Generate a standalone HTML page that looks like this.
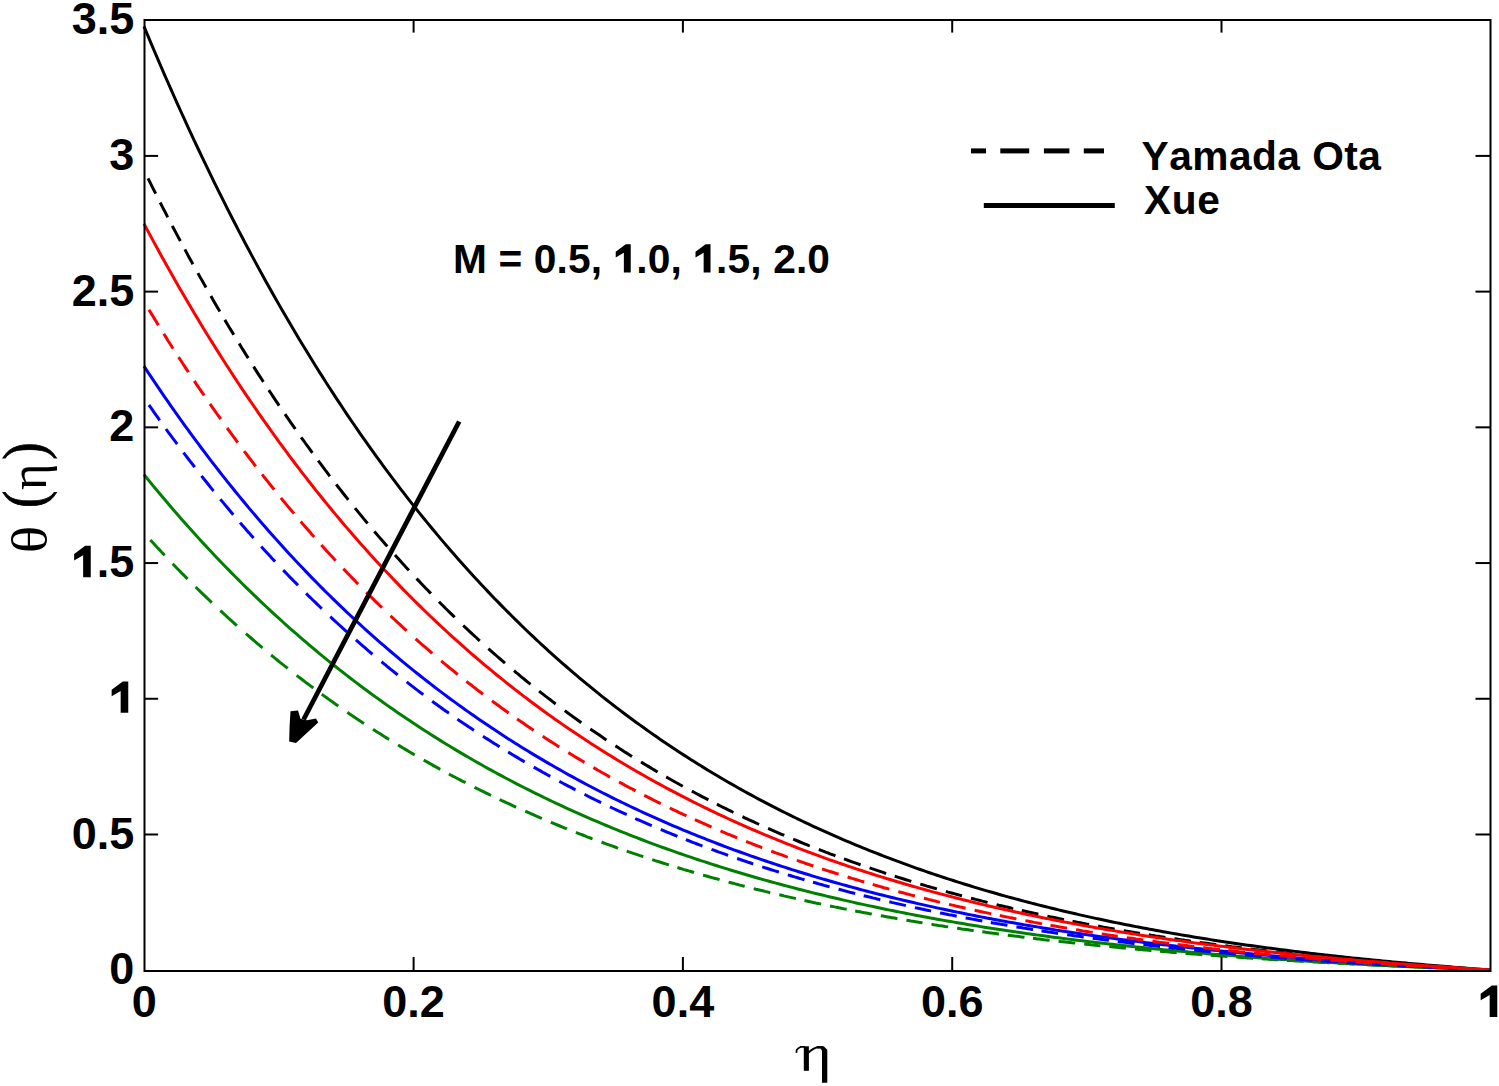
<!DOCTYPE html>
<html><head><meta charset="utf-8"><style>
html,body{margin:0;padding:0;background:#fff;}
body{width:1499px;height:1086px;overflow:hidden;}
svg{display:block;}
.tk text{font-family:"Liberation Sans",sans-serif;font-weight:bold;fill:#000;}
.tk polygon{fill:#000;}
.gr{font-family:"Liberation Serif",serif;fill:#000;}
</style></head><body>
<svg width="1499" height="1086" viewBox="0 0 1499 1086">
<rect x="0" y="0" width="1499" height="1086" fill="#fff"/>
<g>
<polyline fill="none" stroke="#000000" stroke-width="3.0" points="144.00,26.44 147.37,34.53 150.75,42.56 154.12,50.52 157.50,58.42 160.87,66.26 164.25,74.04 167.62,81.75 171.00,89.41 174.37,97.00 177.75,104.53 181.12,112.00 184.50,119.42 187.87,126.77 191.25,134.07 194.62,141.31 197.99,148.49 201.37,155.61 204.74,162.68 208.12,169.69 211.49,176.64 214.87,183.54 218.24,190.38 221.62,197.17 224.99,203.91 228.37,210.59 231.74,217.22 235.12,223.79 238.49,230.32 241.87,236.79 245.24,243.20 248.62,249.57 251.99,255.89 255.36,262.15 258.74,268.37 262.11,274.54 265.49,280.65 268.86,286.72 272.24,292.74 275.61,298.71 278.99,304.63 282.36,310.51 285.74,316.33 289.11,322.12 292.49,327.85 295.86,333.54 299.24,339.18 302.61,344.78 305.98,350.33 309.36,355.84 312.73,361.30 316.11,366.72 319.48,372.09 322.86,377.42 326.23,382.71 329.61,387.96 332.98,393.16 336.36,398.32 339.73,403.44 343.11,408.52 346.48,413.56 349.86,418.56 353.23,423.51 356.61,428.43 359.98,433.30 363.35,438.14 366.73,442.94 370.10,447.69 373.48,452.41 376.85,457.09 380.23,461.74 383.60,466.34 386.98,470.91 390.35,475.44 393.73,479.93 397.10,484.39 400.48,488.81 403.85,493.20 407.23,497.55 410.60,501.86 413.97,506.14 417.35,510.38 420.72,514.59 424.10,518.76 427.47,522.90 430.85,527.01 434.22,531.08 437.60,535.12 440.97,539.13 444.35,543.10 447.72,547.04 451.10,550.95 454.47,554.82 457.85,558.67 461.22,562.48 464.60,566.26 467.97,570.01 471.34,573.73 474.72,577.42 478.09,581.08 481.47,584.70 484.84,588.30 488.22,591.87 491.59,595.41 494.97,598.92 498.34,602.40 501.72,605.85 505.09,609.27 508.47,612.67 511.84,616.04 515.22,619.37 518.59,622.69 521.96,625.97 525.34,629.23 528.71,632.46 532.09,635.66 535.46,638.83 538.84,641.98 542.21,645.11 545.59,648.20 548.96,651.28 552.34,654.32 555.71,657.34 559.09,660.34 562.46,663.31 565.84,666.25 569.21,669.17 572.59,672.07 575.96,674.94 579.33,677.79 582.71,680.62 586.08,683.42 589.46,686.19 592.83,688.95 596.21,691.68 599.58,694.39 602.96,697.07 606.33,699.73 609.71,702.37 613.08,704.99 616.46,707.59 619.83,710.16 623.21,712.71 626.58,715.24 629.95,717.75 633.33,720.24 636.70,722.71 640.08,725.16 643.45,727.58 646.83,729.99 650.20,732.37 653.58,734.74 656.95,737.08 660.33,739.40 663.70,741.71 667.08,743.99 670.45,746.26 673.83,748.51 677.20,750.73 680.58,752.94 683.95,755.13 687.32,757.30 690.70,759.46 694.07,761.59 697.45,763.71 700.82,765.80 704.20,767.88 707.57,769.95 710.95,771.99 714.32,774.02 717.70,776.03 721.07,778.02 724.45,779.99 727.82,781.95 731.20,783.89 734.57,785.82 737.94,787.73 741.32,789.62 744.69,791.49 748.07,793.35 751.44,795.19 754.82,797.02 758.19,798.83 761.57,800.63 764.94,802.41 768.32,804.17 771.69,805.92 775.07,807.66 778.44,809.38 781.82,811.08 785.19,812.77 788.57,814.44 791.94,816.11 795.31,817.75 798.69,819.38 802.06,821.00 805.44,822.60 808.81,824.19 812.19,825.77 815.56,827.33 818.94,828.88 822.31,830.41 825.69,831.93 829.06,833.44 832.44,834.93 835.81,836.41 839.19,837.88 842.56,839.34 845.93,840.78 849.31,842.21 852.68,843.63 856.06,845.03 859.43,846.42 862.81,847.80 866.18,849.17 869.56,850.53 872.93,851.87 876.31,853.20 879.68,854.52 883.06,855.83 886.43,857.13 889.81,858.41 893.18,859.69 896.56,860.95 899.93,862.20 903.30,863.44 906.68,864.67 910.05,865.89 913.43,867.09 916.80,868.29 920.18,869.48 923.55,870.65 926.93,871.81 930.30,872.97 933.68,874.11 937.05,875.25 940.43,876.37 943.80,877.48 947.18,878.58 950.55,879.68 953.92,880.76 957.30,881.83 960.67,882.90 964.05,883.95 967.42,885.00 970.80,886.03 974.17,887.06 977.55,888.07 980.92,889.08 984.30,890.08 987.67,891.07 991.05,892.05 994.42,893.02 997.80,893.98 1001.17,894.94 1004.55,895.88 1007.92,896.82 1011.29,897.74 1014.67,898.66 1018.04,899.57 1021.42,900.48 1024.79,901.37 1028.17,902.26 1031.54,903.13 1034.92,904.00 1038.29,904.86 1041.67,905.72 1045.04,906.56 1048.42,907.40 1051.79,908.23 1055.17,909.05 1058.54,909.87 1061.91,910.68 1065.29,911.48 1068.66,912.27 1072.04,913.05 1075.41,913.83 1078.79,914.60 1082.16,915.37 1085.54,916.12 1088.91,916.87 1092.29,917.61 1095.66,918.35 1099.04,919.08 1102.41,919.80 1105.79,920.51 1109.16,921.22 1112.54,921.92 1115.91,922.62 1119.28,923.31 1122.66,923.99 1126.03,924.66 1129.41,925.33 1132.78,926.00 1136.16,926.65 1139.53,927.30 1142.91,927.95 1146.28,928.59 1149.66,929.22 1153.03,929.84 1156.41,930.46 1159.78,931.08 1163.16,931.69 1166.53,932.29 1169.90,932.89 1173.28,933.48 1176.65,934.06 1180.03,934.64 1183.40,935.22 1186.78,935.79 1190.15,936.35 1193.53,936.91 1196.90,937.46 1200.28,938.01 1203.65,938.55 1207.03,939.09 1210.40,939.62 1213.78,940.15 1217.15,940.67 1220.53,941.18 1223.90,941.70 1227.27,942.20 1230.65,942.70 1234.02,943.20 1237.40,943.69 1240.77,944.18 1244.15,944.66 1247.52,945.14 1250.90,945.61 1254.27,946.08 1257.65,946.55 1261.02,947.01 1264.40,947.46 1267.77,947.91 1271.15,948.36 1274.52,948.80 1277.89,949.24 1281.27,949.67 1284.64,950.10 1288.02,950.53 1291.39,950.95 1294.77,951.37 1298.14,951.78 1301.52,952.19 1304.89,952.59 1308.27,953.00 1311.64,953.39 1315.02,953.79 1318.39,954.18 1321.77,954.56 1325.14,954.94 1328.52,955.32 1331.89,955.70 1335.26,956.07 1338.64,956.44 1342.01,956.80 1345.39,957.16 1348.76,957.52 1352.14,957.87 1355.51,958.22 1358.89,958.57 1362.26,958.91 1365.64,959.25 1369.01,959.59 1372.39,959.93 1375.76,960.26 1379.14,960.58 1382.51,960.91 1385.88,961.23 1389.26,961.55 1392.63,961.87 1396.01,962.18 1399.38,962.49 1402.76,962.80 1406.13,963.10 1409.51,963.40 1412.88,963.70 1416.26,964.00 1419.63,964.30 1423.01,964.59 1426.38,964.88 1429.76,965.17 1433.13,965.45 1436.51,965.74 1439.88,966.02 1443.25,966.30 1446.63,966.58 1450.00,966.85 1453.38,967.13 1456.75,967.40 1460.13,967.67 1463.50,967.94 1466.88,968.22 1470.25,968.49 1473.63,968.76 1477.00,969.03 1480.38,969.31 1483.75,969.59 1487.13,969.88 1490.50,970.20"/>
<path fill="none" stroke="#000000" stroke-width="3.0" d="M148.0 178.4 L150.3 182.9 L152.5 187.4 L154.8 191.9 L155.7 193.6 M160.2 202.5 L162.4 206.9 L164.7 211.2 L166.9 215.6 L167.8 217.3 M172.3 225.9 L174.5 230.1 L176.8 234.4 L179.0 238.6 L180.4 241.1 M184.9 249.4 L187.1 253.6 L189.3 257.7 L191.6 261.8 L192.9 264.2 M197.9 273.1 L200.1 277.1 L202.4 281.1 L204.6 285.1 L206.0 287.5 M210.9 296.1 L213.1 300.0 L215.4 303.9 L217.6 307.7 L219.9 311.5 M224.8 319.9 L227.1 323.7 L229.3 327.4 L231.6 331.1 L233.8 334.8 M239.2 343.6 L241.4 347.3 L243.7 350.9 L245.9 354.5 L248.2 358.1 M253.6 366.6 L255.8 370.1 L258.0 373.6 L260.3 377.1 L262.5 380.5 L263.4 381.9 M268.8 390.1 L271.1 393.5 L273.3 396.9 L275.6 400.3 L277.8 403.6 L279.1 405.6 M285.0 414.1 L287.2 417.4 L289.5 420.7 L291.7 423.9 L294.0 427.1 L295.3 429.0 M301.1 437.3 L303.4 440.4 L305.6 443.5 L307.9 446.6 L310.1 449.7 L312.4 452.8 M318.2 460.7 L320.5 463.7 L322.7 466.7 L324.9 469.7 L327.2 472.6 L329.4 475.6 L329.9 476.2 M336.2 484.4 L338.4 487.2 L340.7 490.1 L342.9 493.0 L345.1 495.8 L347.4 498.6 L348.3 499.8 M355.0 508.1 L357.3 510.9 L359.5 513.6 L361.8 516.4 L364.0 519.1 L366.2 521.8 L367.6 523.4 M374.3 531.4 L376.6 534.0 L378.8 536.6 L381.1 539.2 L383.3 541.8 L385.6 544.4 L387.3 546.4 M395.0 555.1 L397.2 557.6 L399.5 560.1 L401.7 562.5 L404.0 565.0 L406.2 567.5 L408.5 569.9 L408.9 570.4 M416.5 578.6 L418.8 580.9 L421.0 583.3 L423.3 585.7 L425.5 588.0 L427.8 590.3 L430.0 592.6 L430.9 593.6 M439.0 601.8 L441.2 604.0 L443.5 606.3 L445.7 608.5 L448.0 610.7 L450.2 612.9 L452.5 615.1 L454.7 617.3 M463.2 625.5 L465.5 627.6 L467.7 629.7 L470.0 631.8 L472.2 633.9 L474.5 636.0 L476.7 638.0 L478.9 640.1 L479.8 640.9 M488.4 648.6 L490.6 650.6 L492.9 652.6 L495.1 654.5 L497.3 656.5 L499.6 658.5 L501.8 660.4 L504.1 662.3 L505.0 663.1 M514.0 670.7 L516.2 672.6 L518.5 674.4 L520.7 676.3 L522.9 678.1 L525.2 680.0 L527.4 681.8 L529.7 683.6 L530.6 684.3 M539.1 691.1 L541.3 692.9 L543.6 694.6 L545.8 696.4 L548.1 698.1 L550.3 699.8 L552.6 701.6 L554.8 703.3 L555.7 703.9 M564.7 710.6 L566.9 712.3 L569.2 713.9 L571.4 715.6 L573.7 717.2 L575.9 718.8 L578.2 720.4 L580.4 722.0 L581.3 722.7 M590.3 729.0 L592.5 730.5 L594.8 732.1 L597.0 733.6 L599.3 735.1 L601.5 736.6 L603.8 738.2 L606.0 739.7 L606.5 740.0 M615.4 745.9 L617.7 747.3 L619.9 748.8 L622.2 750.2 L624.4 751.7 L626.7 753.1 L628.9 754.5 L631.1 755.9 L632.0 756.5 M641.0 762.0 L643.3 763.4 L645.5 764.7 L647.8 766.1 L650.0 767.4 L652.2 768.8 L654.5 770.1 L656.7 771.4 L657.6 772.0 M666.2 776.9 L668.4 778.2 L670.7 779.5 L672.9 780.7 L675.1 782.0 L677.4 783.2 L679.6 784.5 L681.9 785.7 L682.8 786.2 M691.8 791.1 L694.0 792.3 L696.2 793.5 L698.5 794.7 L700.7 795.9 L703.0 797.1 L705.2 798.2 L707.5 799.4 L708.4 799.9 M716.9 804.2 L719.1 805.3 L721.4 806.5 L723.6 807.6 L725.9 808.7 L728.1 809.8 L730.4 810.9 L732.6 812.0 L733.5 812.4 M742.5 816.7 L744.7 817.8 L747.0 818.8 L749.2 819.9 L751.5 820.9 L753.7 821.9 L756.0 823.0 L758.2 824.0 L759.1 824.4 M768.1 828.4 L770.3 829.4 L772.6 830.4 L774.8 831.4 L777.1 832.3 L779.3 833.3 L781.6 834.3 L783.8 835.2 L784.2 835.4 M793.2 839.2 L795.5 840.1 L797.7 841.0 L800.0 842.0 L802.2 842.9 L804.5 843.8 L806.7 844.7 L808.9 845.6 L809.8 845.9 M818.8 849.5 L821.1 850.3 L823.3 851.2 L825.6 852.1 L827.8 852.9 L830.0 853.8 L832.3 854.6 L834.5 855.4 L835.4 855.8 M844.0 858.9 L846.2 859.7 L848.5 860.5 L850.7 861.3 L852.9 862.1 L855.2 862.9 L857.4 863.7 L859.7 864.5 L860.6 864.8 M869.6 867.9 L871.8 868.7 L874.0 869.4 L876.3 870.2 L878.5 870.9 L880.8 871.7 L883.0 872.4 L885.3 873.2 L886.2 873.4 M894.7 876.2 L896.9 876.9 L899.2 877.6 L901.4 878.3 L903.7 879.0 L905.9 879.7 L908.2 880.4 L910.4 881.1 L911.3 881.4 M920.3 884.1 L922.5 884.7 L924.8 885.4 L927.0 886.1 L929.3 886.7 L931.5 887.4 L933.8 888.0 L936.0 888.6 L936.9 888.9 M945.9 891.4 L948.1 892.1 L950.4 892.7 L952.6 893.3 L954.9 893.9 L957.1 894.5 L959.4 895.1 L961.6 895.7 L962.0 895.8 M971.0 898.2 L973.3 898.8 L975.5 899.4 L977.8 899.9 L980.0 900.5 L982.3 901.1 L984.5 901.6 L986.7 902.2 L987.6 902.4 M996.6 904.6 L998.9 905.2 L1001.1 905.7 L1003.4 906.2 L1005.6 906.8 L1007.8 907.3 L1010.1 907.8 L1012.3 908.4 L1013.2 908.6 M1021.8 910.5 L1024.0 911.0 L1026.3 911.5 L1028.5 912.0 L1030.7 912.5 L1033.0 913.0 L1035.2 913.5 L1037.5 914.0 L1038.4 914.2 M1047.4 916.1 L1049.6 916.6 L1051.8 917.1 L1054.1 917.5 L1056.3 918.0 L1058.6 918.5 L1060.8 918.9 L1063.1 919.4 L1064.0 919.6 M1072.5 921.3 L1074.7 921.7 L1077.0 922.1 L1079.2 922.6 L1081.5 923.0 L1083.7 923.4 L1086.0 923.9 L1088.2 924.3 L1089.1 924.5 M1098.1 926.1 L1100.3 926.5 L1102.6 927.0 L1104.8 927.4 L1107.1 927.8 L1109.3 928.2 L1111.6 928.6 L1113.8 929.0 L1114.7 929.1 M1123.7 930.7 L1125.9 931.1 L1128.2 931.4 L1130.4 931.8 L1132.7 932.2 L1134.9 932.6 L1137.2 932.9 L1139.4 933.3 L1139.8 933.4 M1148.8 934.8 L1151.1 935.2 L1153.3 935.5 L1155.6 935.9 L1157.8 936.2 L1160.0 936.6 L1162.3 936.9 L1164.5 937.3 L1165.4 937.4 M1174.4 938.8 L1176.7 939.1 L1178.9 939.4 L1181.2 939.8 L1183.4 940.1 L1185.6 940.4 L1187.9 940.7 L1190.1 941.1 L1191.0 941.2 M1199.6 942.4 L1201.8 942.7 L1204.0 943.0 L1206.3 943.3 L1208.5 943.6 L1210.8 943.9 L1213.0 944.2 L1215.3 944.5 L1216.2 944.6 M1225.2 945.8 L1227.4 946.1 L1229.6 946.4 L1231.9 946.7 L1234.1 946.9 L1236.4 947.2 L1238.6 947.5 L1240.9 947.8 L1241.8 947.9 M1250.3 948.9 L1252.5 949.2 L1254.8 949.5 L1257.0 949.7 L1259.3 950.0 L1261.5 950.2 L1263.8 950.5 L1266.0 950.8 L1266.9 950.9 M1275.9 951.9 L1278.1 952.1 L1280.4 952.4 L1282.6 952.6 L1284.9 952.9 L1287.1 953.1 L1289.4 953.3 L1291.6 953.6 L1292.5 953.7 M1301.5 954.6 L1303.7 954.9 L1306.0 955.1 L1308.2 955.3 L1310.5 955.5 L1312.7 955.8 L1314.9 956.0 L1317.2 956.2 L1317.6 956.3 M1326.6 957.1 L1328.9 957.4 L1331.1 957.6 L1333.4 957.8 L1335.6 958.0 L1337.8 958.2 L1340.1 958.4 L1342.3 958.6 L1343.2 958.7 M1352.2 959.5 L1354.5 959.7 L1356.7 959.9 L1358.9 960.1 L1361.2 960.3 L1363.4 960.5 L1365.7 960.7 L1367.9 960.9 L1368.8 961.0 M1377.4 961.7 L1379.6 961.9 L1381.8 962.1 L1384.1 962.3 L1386.3 962.4 L1388.6 962.6 L1390.8 962.8 L1393.1 963.0 L1394.0 963.1 M1402.9 963.8 L1405.2 963.9 L1407.4 964.1 L1409.7 964.3 L1411.9 964.5 L1414.2 964.6 L1416.4 964.8 L1418.7 965.0 L1419.6 965.0 M1428.1 965.7 L1430.3 965.8 L1432.6 966.0 L1434.8 966.2 L1437.1 966.3 L1439.3 966.5 L1441.6 966.7 L1443.8 966.8 L1444.7 966.9 M1453.7 967.5 L1455.9 967.7 L1458.2 967.8 L1460.4 968.0 L1462.7 968.2 L1464.9 968.3 L1467.2 968.5 L1469.4 968.6 L1470.3 968.7 M1479.3 969.3 L1481.5 969.5 L1483.8 969.7 L1486.0 969.8 L1488.3 970.0 L1490.5 970.2"/>
<polyline fill="none" stroke="#008000" stroke-width="3.0" points="144.00,474.54 147.37,478.71 150.75,482.85 154.12,486.95 157.50,491.03 160.87,495.07 164.25,499.08 167.62,503.06 171.00,507.01 174.37,510.93 177.75,514.82 181.12,518.68 184.50,522.51 187.87,526.31 191.25,530.08 194.62,533.82 197.99,537.53 201.37,541.21 204.74,544.87 208.12,548.49 211.49,552.09 214.87,555.66 218.24,559.20 221.62,562.72 224.99,566.21 228.37,569.67 231.74,573.10 235.12,576.51 238.49,579.89 241.87,583.24 245.24,586.57 248.62,589.87 251.99,593.15 255.36,596.40 258.74,599.62 262.11,602.82 265.49,606.00 268.86,609.15 272.24,612.28 275.61,615.38 278.99,618.45 282.36,621.51 285.74,624.54 289.11,627.54 292.49,630.52 295.86,633.48 299.24,636.42 302.61,639.33 305.98,642.22 309.36,645.08 312.73,647.93 316.11,650.75 319.48,653.55 322.86,656.33 326.23,659.08 329.61,661.82 332.98,664.53 336.36,667.22 339.73,669.89 343.11,672.54 346.48,675.17 349.86,677.77 353.23,680.36 356.61,682.92 359.98,685.47 363.35,688.00 366.73,690.50 370.10,692.99 373.48,695.45 376.85,697.90 380.23,700.33 383.60,702.73 386.98,705.12 390.35,707.49 393.73,709.84 397.10,712.18 400.48,714.49 403.85,716.79 407.23,719.06 410.60,721.32 413.97,723.56 417.35,725.78 420.72,727.99 424.10,730.18 427.47,732.35 430.85,734.50 434.22,736.64 437.60,738.75 440.97,740.86 444.35,742.94 447.72,745.01 451.10,747.06 454.47,749.10 457.85,751.11 461.22,753.12 464.60,755.10 467.97,757.07 471.34,759.03 474.72,760.97 478.09,762.89 481.47,764.80 484.84,766.69 488.22,768.57 491.59,770.43 494.97,772.28 498.34,774.11 501.72,775.93 505.09,777.73 508.47,779.52 511.84,781.29 515.22,783.05 518.59,784.80 521.96,786.53 525.34,788.24 528.71,789.95 532.09,791.64 535.46,793.31 538.84,794.97 542.21,796.62 545.59,798.26 548.96,799.88 552.34,801.49 555.71,803.08 559.09,804.66 562.46,806.23 565.84,807.79 569.21,809.33 572.59,810.86 575.96,812.38 579.33,813.89 582.71,815.38 586.08,816.86 589.46,818.33 592.83,819.79 596.21,821.24 599.58,822.67 602.96,824.09 606.33,825.50 609.71,826.90 613.08,828.29 616.46,829.66 619.83,831.03 623.21,832.38 626.58,833.72 629.95,835.05 633.33,836.37 636.70,837.68 640.08,838.98 643.45,840.27 646.83,841.54 650.20,842.81 653.58,844.06 656.95,845.31 660.33,846.54 663.70,847.77 667.08,848.98 670.45,850.19 673.83,851.38 677.20,852.57 680.58,853.74 683.95,854.90 687.32,856.06 690.70,857.20 694.07,858.34 697.45,859.47 700.82,860.58 704.20,861.69 707.57,862.79 710.95,863.88 714.32,864.96 717.70,866.03 721.07,867.09 724.45,868.14 727.82,869.19 731.20,870.22 734.57,871.25 737.94,872.26 741.32,873.27 744.69,874.27 748.07,875.27 751.44,876.25 754.82,877.23 758.19,878.19 761.57,879.15 764.94,880.10 768.32,881.04 771.69,881.98 775.07,882.91 778.44,883.82 781.82,884.74 785.19,885.64 788.57,886.53 791.94,887.42 795.31,888.30 798.69,889.18 802.06,890.04 805.44,890.90 808.81,891.75 812.19,892.59 815.56,893.43 818.94,894.26 822.31,895.08 825.69,895.89 829.06,896.70 832.44,897.50 835.81,898.30 839.19,899.08 842.56,899.86 845.93,900.64 849.31,901.40 852.68,902.16 856.06,902.92 859.43,903.66 862.81,904.40 866.18,905.14 869.56,905.87 872.93,906.59 876.31,907.30 879.68,908.01 883.06,908.71 886.43,909.41 889.81,910.10 893.18,910.78 896.56,911.46 899.93,912.14 903.30,912.80 906.68,913.46 910.05,914.12 913.43,914.77 916.80,915.41 920.18,916.05 923.55,916.68 926.93,917.31 930.30,917.93 933.68,918.54 937.05,919.15 940.43,919.76 943.80,920.36 947.18,920.95 950.55,921.54 953.92,922.12 957.30,922.70 960.67,923.27 964.05,923.84 967.42,924.41 970.80,924.96 974.17,925.52 977.55,926.06 980.92,926.61 984.30,927.15 987.67,927.68 991.05,928.21 994.42,928.73 997.80,929.25 1001.17,929.77 1004.55,930.28 1007.92,930.78 1011.29,931.28 1014.67,931.78 1018.04,932.27 1021.42,932.76 1024.79,933.24 1028.17,933.72 1031.54,934.19 1034.92,934.66 1038.29,935.13 1041.67,935.59 1045.04,936.05 1048.42,936.50 1051.79,936.95 1055.17,937.39 1058.54,937.83 1061.91,938.27 1065.29,938.70 1068.66,939.13 1072.04,939.55 1075.41,939.97 1078.79,940.39 1082.16,940.80 1085.54,941.21 1088.91,941.62 1092.29,942.02 1095.66,942.42 1099.04,942.81 1102.41,943.20 1105.79,943.59 1109.16,943.97 1112.54,944.35 1115.91,944.73 1119.28,945.10 1122.66,945.47 1126.03,945.84 1129.41,946.20 1132.78,946.56 1136.16,946.91 1139.53,947.26 1142.91,947.61 1146.28,947.96 1149.66,948.30 1153.03,948.64 1156.41,948.98 1159.78,949.31 1163.16,949.64 1166.53,949.96 1169.90,950.29 1173.28,950.61 1176.65,950.93 1180.03,951.24 1183.40,951.55 1186.78,951.86 1190.15,952.16 1193.53,952.47 1196.90,952.77 1200.28,953.06 1203.65,953.36 1207.03,953.65 1210.40,953.93 1213.78,954.22 1217.15,954.50 1220.53,954.78 1223.90,955.06 1227.27,955.33 1230.65,955.60 1234.02,955.87 1237.40,956.14 1240.77,956.40 1244.15,956.67 1247.52,956.92 1250.90,957.18 1254.27,957.43 1257.65,957.69 1261.02,957.93 1264.40,958.18 1267.77,958.42 1271.15,958.67 1274.52,958.90 1277.89,959.14 1281.27,959.38 1284.64,959.61 1288.02,959.84 1291.39,960.06 1294.77,960.29 1298.14,960.51 1301.52,960.73 1304.89,960.95 1308.27,961.17 1311.64,961.38 1315.02,961.60 1318.39,961.81 1321.77,962.01 1325.14,962.22 1328.52,962.42 1331.89,962.62 1335.26,962.82 1338.64,963.02 1342.01,963.22 1345.39,963.41 1348.76,963.60 1352.14,963.79 1355.51,963.98 1358.89,964.17 1362.26,964.35 1365.64,964.53 1369.01,964.71 1372.39,964.89 1375.76,965.07 1379.14,965.25 1382.51,965.42 1385.88,965.59 1389.26,965.76 1392.63,965.93 1396.01,966.09 1399.38,966.26 1402.76,966.42 1406.13,966.58 1409.51,966.74 1412.88,966.90 1416.26,967.06 1419.63,967.22 1423.01,967.37 1426.38,967.52 1429.76,967.67 1433.13,967.82 1436.51,967.97 1439.88,968.12 1443.25,968.26 1446.63,968.41 1450.00,968.55 1453.38,968.69 1456.75,968.83 1460.13,968.97 1463.50,969.11 1466.88,969.25 1470.25,969.38 1473.63,969.52 1477.00,969.65 1480.38,969.79 1483.75,969.92 1487.13,970.06 1490.50,970.20"/>
<path fill="none" stroke="#008000" stroke-width="3.0" d="M150.3 539.9 L152.5 542.3 L154.8 544.8 L157.0 547.2 L159.3 549.6 L161.5 552.0 L163.8 554.4 L164.7 555.3 M172.7 563.8 L175.0 566.2 L177.2 568.5 L179.5 570.8 L181.7 573.1 L184.0 575.3 L186.2 577.6 L187.6 579.0 M195.6 587.0 L197.9 589.2 L200.1 591.4 L202.4 593.6 L204.6 595.7 L206.9 597.9 L209.1 600.0 L211.3 602.2 L211.8 602.6 M220.3 610.6 L222.6 612.7 L224.8 614.7 L227.1 616.8 L229.3 618.8 L231.6 620.9 L233.8 622.9 L236.0 624.9 L236.9 625.7 M245.9 633.6 L248.2 635.6 L250.4 637.5 L252.7 639.5 L254.9 641.4 L257.1 643.3 L259.4 645.2 L261.6 647.1 L262.5 647.9 M271.1 655.0 L273.3 656.8 L275.6 658.6 L277.8 660.5 L280.0 662.3 L282.3 664.1 L284.5 665.9 L286.8 667.6 L287.7 668.4 M296.7 675.4 L298.9 677.1 L301.1 678.8 L303.4 680.5 L305.6 682.3 L307.9 683.9 L310.1 685.6 L312.4 687.3 L313.3 688.0 M321.8 694.3 L324.0 695.9 L326.3 697.5 L328.5 699.1 L330.8 700.7 L333.0 702.3 L335.3 703.9 L337.5 705.5 L338.4 706.1 M347.4 712.3 L349.6 713.9 L351.9 715.4 L354.1 716.9 L356.4 718.4 L358.6 719.9 L360.9 721.4 L363.1 722.9 L364.0 723.5 M373.0 729.3 L375.2 730.8 L377.5 732.2 L379.7 733.6 L382.0 735.1 L384.2 736.5 L386.5 737.9 L388.7 739.3 L389.1 739.5 M398.1 745.0 L400.4 746.4 L402.6 747.7 L404.9 749.1 L407.1 750.4 L409.3 751.8 L411.6 753.1 L413.8 754.4 L414.7 754.9 M423.7 760.1 L426.0 761.3 L428.2 762.6 L430.5 763.9 L432.7 765.1 L434.9 766.4 L437.2 767.6 L439.4 768.9 L440.3 769.3 M448.9 774.0 L451.1 775.2 L453.3 776.4 L455.6 777.5 L457.8 778.7 L460.1 779.9 L462.3 781.1 L464.6 782.2 L465.5 782.7 M474.5 787.2 L476.7 788.4 L478.9 789.5 L481.2 790.6 L483.4 791.7 L485.7 792.8 L487.9 793.9 L490.2 795.0 L491.1 795.4 M499.6 799.5 L501.8 800.6 L504.1 801.6 L506.3 802.7 L508.6 803.7 L510.8 804.7 L513.1 805.8 L515.3 806.8 L516.2 807.2 M525.2 811.2 L527.4 812.2 L529.7 813.2 L531.9 814.2 L534.2 815.2 L536.4 816.2 L538.7 817.1 L540.9 818.1 L541.8 818.5 M550.8 822.3 L553.0 823.2 L555.3 824.1 L557.5 825.0 L559.8 826.0 L562.0 826.9 L564.2 827.8 L566.5 828.7 L566.9 828.9 M575.9 832.4 L578.2 833.3 L580.4 834.2 L582.7 835.0 L584.9 835.9 L587.1 836.8 L589.4 837.6 L591.6 838.5 L592.5 838.8 M601.5 842.1 L603.8 843.0 L606.0 843.8 L608.2 844.6 L610.5 845.4 L612.7 846.2 L615.0 847.0 L617.2 847.8 L618.1 848.1 M626.7 851.1 L628.9 851.9 L631.1 852.6 L633.4 853.4 L635.6 854.1 L637.9 854.9 L640.1 855.7 L642.4 856.4 L643.3 856.7 M652.2 859.6 L654.5 860.4 L656.7 861.1 L659.0 861.8 L661.2 862.5 L663.5 863.2 L665.7 863.9 L668.0 864.6 L668.9 864.9 M677.4 867.5 L679.6 868.2 L681.9 868.9 L684.1 869.6 L686.4 870.2 L688.6 870.9 L690.9 871.5 L693.1 872.2 L694.0 872.5 M703.0 875.1 L705.2 875.7 L707.5 876.3 L709.7 877.0 L712.0 877.6 L714.2 878.2 L716.5 878.8 L718.7 879.4 L719.6 879.7 M728.6 882.1 L730.8 882.7 L733.1 883.3 L735.3 883.9 L737.6 884.5 L739.8 885.1 L742.0 885.6 L744.3 886.2 L744.7 886.3 M753.7 888.6 L756.0 889.2 L758.2 889.7 L760.5 890.3 L762.7 890.8 L764.9 891.4 L767.2 891.9 L769.4 892.5 L770.3 892.7 M779.3 894.8 L781.6 895.3 L783.8 895.9 L786.0 896.4 L788.3 896.9 L790.5 897.4 L792.8 897.9 L795.0 898.4 L795.9 898.6 M804.5 900.5 L806.7 901.0 L808.9 901.5 L811.2 902.0 L813.4 902.5 L815.7 903.0 L817.9 903.4 L820.2 903.9 L821.1 904.1 M830.0 906.0 L832.3 906.4 L834.5 906.9 L836.8 907.3 L839.0 907.8 L841.3 908.2 L843.5 908.7 L845.8 909.1 L846.7 909.3 M855.2 911.0 L857.4 911.4 L859.7 911.8 L861.9 912.3 L864.2 912.7 L866.4 913.1 L868.7 913.5 L870.9 913.9 L871.8 914.1 M880.8 915.7 L883.0 916.1 L885.3 916.5 L887.5 916.9 L889.8 917.3 L892.0 917.7 L894.3 918.1 L896.5 918.5 L897.4 918.7 M906.4 920.2 L908.6 920.6 L910.9 921.0 L913.1 921.3 L915.4 921.7 L917.6 922.1 L919.8 922.4 L922.1 922.8 L922.5 922.9 M931.5 924.3 L933.8 924.7 L936.0 925.0 L938.3 925.4 L940.5 925.7 L942.7 926.0 L945.0 926.4 L947.2 926.7 L948.1 926.9 M957.1 928.2 L959.4 928.5 L961.6 928.9 L963.8 929.2 L966.1 929.5 L968.3 929.8 L970.6 930.2 L972.8 930.5 L973.7 930.6 M982.3 931.8 L984.5 932.1 L986.7 932.4 L989.0 932.7 L991.2 933.0 L993.5 933.3 L995.7 933.6 L998.0 933.9 L998.9 934.0 M1007.8 935.2 L1010.1 935.5 L1012.3 935.8 L1014.6 936.1 L1016.8 936.3 L1019.1 936.6 L1021.3 936.9 L1023.6 937.2 L1024.5 937.3 M1033.0 938.3 L1035.2 938.6 L1037.5 938.9 L1039.7 939.1 L1042.0 939.4 L1044.2 939.7 L1046.5 939.9 L1048.7 940.2 L1049.6 940.3 M1058.6 941.3 L1060.8 941.6 L1063.1 941.8 L1065.3 942.1 L1067.6 942.3 L1069.8 942.5 L1072.0 942.8 L1074.3 943.0 L1075.2 943.1 M1084.2 944.1 L1086.4 944.3 L1088.7 944.5 L1090.9 944.8 L1093.2 945.0 L1095.4 945.2 L1097.6 945.5 L1099.9 945.7 L1100.3 945.7 M1109.3 946.6 L1111.6 946.8 L1113.8 947.1 L1116.0 947.3 L1118.3 947.5 L1120.5 947.7 L1122.8 947.9 L1125.0 948.1 L1125.9 948.2 M1134.9 949.0 L1137.2 949.2 L1139.4 949.4 L1141.6 949.6 L1143.9 949.9 L1146.1 950.0 L1148.4 950.2 L1150.6 950.4 L1151.5 950.5 M1160.0 951.3 L1162.3 951.4 L1164.5 951.6 L1166.8 951.8 L1169.0 952.0 L1171.3 952.2 L1173.5 952.4 L1175.8 952.6 L1176.7 952.6 M1185.6 953.4 L1187.9 953.5 L1190.1 953.7 L1192.4 953.9 L1194.6 954.1 L1196.9 954.2 L1199.1 954.4 L1201.4 954.6 L1202.3 954.6 M1210.8 955.3 L1213.0 955.5 L1215.3 955.6 L1217.5 955.8 L1219.8 955.9 L1222.0 956.1 L1224.3 956.3 L1226.5 956.4 L1227.4 956.5 M1236.4 957.1 L1238.6 957.3 L1240.9 957.4 L1243.1 957.6 L1245.4 957.7 L1247.6 957.9 L1249.8 958.0 L1252.1 958.2 L1253.0 958.2 M1262.0 958.8 L1264.2 959.0 L1266.5 959.1 L1268.7 959.2 L1270.9 959.4 L1273.2 959.5 L1275.4 959.7 L1277.7 959.8 L1278.1 959.8 M1287.1 960.4 L1289.4 960.5 L1291.6 960.6 L1293.8 960.8 L1296.1 960.9 L1298.3 961.0 L1300.6 961.2 L1302.8 961.3 L1303.7 961.4 M1312.7 961.9 L1314.9 962.0 L1317.2 962.1 L1319.4 962.2 L1321.7 962.4 L1323.9 962.5 L1326.2 962.6 L1328.4 962.7 L1329.3 962.8 M1337.8 963.2 L1340.1 963.3 L1342.3 963.5 L1344.6 963.6 L1346.8 963.7 L1349.1 963.8 L1351.3 963.9 L1353.6 964.0 L1354.5 964.1 M1363.4 964.5 L1365.7 964.6 L1367.9 964.7 L1370.2 964.8 L1372.4 965.0 L1374.7 965.1 L1376.9 965.2 L1379.2 965.3 L1380.1 965.3 M1388.6 965.7 L1390.8 965.8 L1393.1 965.9 L1395.3 966.0 L1397.6 966.1 L1399.8 966.2 L1402.1 966.3 L1404.3 966.4 L1405.2 966.5 M1414.2 966.9 L1416.4 967.0 L1418.7 967.1 L1420.9 967.2 L1423.2 967.3 L1425.4 967.3 L1427.6 967.4 L1429.9 967.5 L1430.8 967.6 M1439.8 968.0 L1442.0 968.1 L1444.3 968.1 L1446.5 968.2 L1448.7 968.3 L1451.0 968.4 L1453.2 968.5 L1455.5 968.6 L1455.9 968.6 M1464.9 969.0 L1467.2 969.1 L1469.4 969.2 L1471.6 969.3 L1473.9 969.4 L1476.1 969.5 L1478.4 969.6 L1480.6 969.7 L1481.5 969.7"/>
<polyline fill="none" stroke="#0000ff" stroke-width="3.0" points="144.00,366.19 147.37,371.31 150.75,376.39 154.12,381.43 157.50,386.43 160.87,391.39 164.25,396.32 167.62,401.20 171.00,406.05 174.37,410.86 177.75,415.63 181.12,420.36 184.50,425.06 187.87,429.72 191.25,434.34 194.62,438.93 197.99,443.48 201.37,447.99 204.74,452.47 208.12,456.92 211.49,461.33 214.87,465.70 218.24,470.04 221.62,474.35 224.99,478.62 228.37,482.86 231.74,487.06 235.12,491.24 238.49,495.37 241.87,499.48 245.24,503.55 248.62,507.60 251.99,511.61 255.36,515.58 258.74,519.53 262.11,523.45 265.49,527.33 268.86,531.18 272.24,535.01 275.61,538.80 278.99,542.56 282.36,546.29 285.74,550.00 289.11,553.67 292.49,557.32 295.86,560.93 299.24,564.52 302.61,568.08 305.98,571.61 309.36,575.11 312.73,578.58 316.11,582.03 319.48,585.45 322.86,588.84 326.23,592.20 329.61,595.54 332.98,598.85 336.36,602.14 339.73,605.40 343.11,608.63 346.48,611.83 349.86,615.02 353.23,618.17 356.61,621.30 359.98,624.41 363.35,627.49 366.73,630.54 370.10,633.57 373.48,636.58 376.85,639.56 380.23,642.52 383.60,645.46 386.98,648.37 390.35,651.26 393.73,654.12 397.10,656.96 400.48,659.78 403.85,662.58 407.23,665.35 410.60,668.10 413.97,670.83 417.35,673.54 420.72,676.22 424.10,678.89 427.47,681.53 430.85,684.15 434.22,686.75 437.60,689.33 440.97,691.88 444.35,694.42 447.72,696.94 451.10,699.43 454.47,701.91 457.85,704.36 461.22,706.80 464.60,709.21 467.97,711.61 471.34,713.99 474.72,716.34 478.09,718.68 481.47,721.00 484.84,723.30 488.22,725.58 491.59,727.85 494.97,730.09 498.34,732.32 501.72,734.52 505.09,736.71 508.47,738.89 511.84,741.04 515.22,743.18 518.59,745.30 521.96,747.40 525.34,749.48 528.71,751.55 532.09,753.60 535.46,755.63 538.84,757.65 542.21,759.65 545.59,761.64 548.96,763.60 552.34,765.55 555.71,767.49 559.09,769.41 562.46,771.31 565.84,773.20 569.21,775.07 572.59,776.93 575.96,778.77 579.33,780.60 582.71,782.41 586.08,784.21 589.46,785.99 592.83,787.75 596.21,789.51 599.58,791.24 602.96,792.97 606.33,794.68 609.71,796.37 613.08,798.05 616.46,799.72 619.83,801.37 623.21,803.01 626.58,804.63 629.95,806.25 633.33,807.84 636.70,809.43 640.08,811.00 643.45,812.56 646.83,814.11 650.20,815.64 653.58,817.16 656.95,818.66 660.33,820.16 663.70,821.64 667.08,823.11 670.45,824.57 673.83,826.01 677.20,827.45 680.58,828.87 683.95,830.28 687.32,831.67 690.70,833.06 694.07,834.43 697.45,835.79 700.82,837.14 704.20,838.48 707.57,839.81 710.95,841.13 714.32,842.43 717.70,843.73 721.07,845.01 724.45,846.28 727.82,847.55 731.20,848.80 734.57,850.04 737.94,851.27 741.32,852.49 744.69,853.70 748.07,854.89 751.44,856.08 754.82,857.26 758.19,858.43 761.57,859.59 764.94,860.74 768.32,861.88 771.69,863.01 775.07,864.12 778.44,865.23 781.82,866.34 785.19,867.43 788.57,868.51 791.94,869.58 795.31,870.64 798.69,871.70 802.06,872.74 805.44,873.78 808.81,874.80 812.19,875.82 815.56,876.83 818.94,877.83 822.31,878.82 825.69,879.81 829.06,880.78 832.44,881.75 835.81,882.71 839.19,883.66 842.56,884.60 845.93,885.53 849.31,886.46 852.68,887.37 856.06,888.28 859.43,889.19 862.81,890.08 866.18,890.96 869.56,891.84 872.93,892.71 876.31,893.58 879.68,894.43 883.06,895.28 886.43,896.12 889.81,896.95 893.18,897.78 896.56,898.60 899.93,899.41 903.30,900.21 906.68,901.01 910.05,901.80 913.43,902.58 916.80,903.36 920.18,904.13 923.55,904.89 926.93,905.64 930.30,906.39 933.68,907.14 937.05,907.87 940.43,908.60 943.80,909.32 947.18,910.04 950.55,910.75 953.92,911.46 957.30,912.15 960.67,912.84 964.05,913.53 967.42,914.21 970.80,914.88 974.17,915.55 977.55,916.21 980.92,916.86 984.30,917.51 987.67,918.16 991.05,918.80 994.42,919.43 997.80,920.05 1001.17,920.67 1004.55,921.29 1007.92,921.90 1011.29,922.50 1014.67,923.10 1018.04,923.69 1021.42,924.28 1024.79,924.87 1028.17,925.44 1031.54,926.01 1034.92,926.58 1038.29,927.14 1041.67,927.70 1045.04,928.25 1048.42,928.80 1051.79,929.34 1055.17,929.88 1058.54,930.41 1061.91,930.94 1065.29,931.46 1068.66,931.97 1072.04,932.49 1075.41,933.00 1078.79,933.50 1082.16,934.00 1085.54,934.49 1088.91,934.98 1092.29,935.47 1095.66,935.95 1099.04,936.42 1102.41,936.89 1105.79,937.36 1109.16,937.83 1112.54,938.28 1115.91,938.74 1119.28,939.19 1122.66,939.64 1126.03,940.08 1129.41,940.52 1132.78,940.95 1136.16,941.38 1139.53,941.81 1142.91,942.23 1146.28,942.65 1149.66,943.06 1153.03,943.47 1156.41,943.88 1159.78,944.28 1163.16,944.68 1166.53,945.07 1169.90,945.47 1173.28,945.85 1176.65,946.24 1180.03,946.62 1183.40,946.99 1186.78,947.37 1190.15,947.74 1193.53,948.10 1196.90,948.47 1200.28,948.83 1203.65,949.18 1207.03,949.54 1210.40,949.89 1213.78,950.23 1217.15,950.58 1220.53,950.92 1223.90,951.25 1227.27,951.59 1230.65,951.92 1234.02,952.24 1237.40,952.57 1240.77,952.89 1244.15,953.21 1247.52,953.52 1250.90,953.83 1254.27,954.14 1257.65,954.45 1261.02,954.75 1264.40,955.05 1267.77,955.35 1271.15,955.64 1274.52,955.93 1277.89,956.22 1281.27,956.51 1284.64,956.79 1288.02,957.07 1291.39,957.35 1294.77,957.63 1298.14,957.90 1301.52,958.17 1304.89,958.44 1308.27,958.71 1311.64,958.97 1315.02,959.23 1318.39,959.49 1321.77,959.74 1325.14,959.99 1328.52,960.25 1331.89,960.49 1335.26,960.74 1338.64,960.98 1342.01,961.22 1345.39,961.46 1348.76,961.70 1352.14,961.94 1355.51,962.17 1358.89,962.40 1362.26,962.63 1365.64,962.85 1369.01,963.08 1372.39,963.30 1375.76,963.52 1379.14,963.74 1382.51,963.95 1385.88,964.17 1389.26,964.38 1392.63,964.59 1396.01,964.80 1399.38,965.01 1402.76,965.21 1406.13,965.42 1409.51,965.62 1412.88,965.82 1416.26,966.02 1419.63,966.21 1423.01,966.41 1426.38,966.60 1429.76,966.80 1433.13,966.99 1436.51,967.18 1439.88,967.37 1443.25,967.55 1446.63,967.74 1450.00,967.93 1453.38,968.11 1456.75,968.30 1460.13,968.48 1463.50,968.66 1466.88,968.85 1470.25,969.03 1473.63,969.21 1477.00,969.40 1480.38,969.59 1483.75,969.78 1487.13,969.98 1490.50,970.20"/>
<path fill="none" stroke="#0000ff" stroke-width="3.0" d="M148.9 405.0 L151.2 408.2 L153.4 411.4 L155.7 414.6 L157.9 417.7 L159.7 420.3 M166.0 429.0 L168.2 432.1 L170.5 435.1 L172.7 438.2 L175.0 441.2 L177.2 444.2 M183.5 452.6 L185.8 455.6 L188.0 458.5 L190.2 461.4 L192.5 464.3 L194.7 467.2 M201.5 475.9 L203.7 478.7 L206.0 481.5 L208.2 484.3 L210.4 487.1 L212.7 489.9 L213.6 491.0 M220.3 499.2 L222.6 501.9 L224.8 504.6 L227.1 507.3 L229.3 510.0 L231.6 512.7 L233.3 514.8 M240.1 522.6 L242.3 525.2 L244.6 527.8 L246.8 530.4 L249.1 532.9 L251.3 535.5 L253.6 538.0 M261.2 546.5 L263.4 548.9 L265.7 551.4 L267.9 553.8 L270.2 556.3 L272.4 558.7 L274.7 561.1 L275.1 561.5 M283.2 570.1 L285.4 572.4 L287.7 574.7 L289.9 577.1 L292.2 579.4 L294.4 581.7 L296.7 583.9 L298.0 585.3 M306.1 593.4 L308.3 595.6 L310.6 597.8 L312.8 600.0 L315.1 602.2 L317.3 604.3 L319.6 606.5 L321.8 608.7 M330.3 616.7 L332.6 618.8 L334.8 620.9 L337.1 623.0 L339.3 625.0 L341.6 627.1 L343.8 629.1 L346.0 631.1 L346.9 631.9 M355.9 639.9 L358.2 641.9 L360.4 643.8 L362.7 645.8 L364.9 647.7 L367.1 649.7 L369.4 651.6 L371.6 653.5 L372.5 654.2 M381.5 661.8 L383.8 663.6 L386.0 665.4 L388.2 667.3 L390.5 669.1 L392.7 670.9 L395.0 672.7 L397.2 674.5 L397.7 674.9 M406.7 681.9 L408.9 683.7 L411.1 685.4 L413.4 687.1 L415.6 688.9 L417.9 690.6 L420.1 692.3 L422.4 693.9 L423.3 694.6 M432.2 701.3 L434.5 702.9 L436.7 704.5 L439.0 706.2 L441.2 707.8 L443.5 709.4 L445.7 711.0 L448.0 712.6 L448.9 713.2 M457.4 719.1 L459.6 720.7 L461.9 722.2 L464.1 723.7 L466.4 725.2 L468.6 726.8 L470.9 728.3 L473.1 729.7 L474.0 730.3 M483.0 736.2 L485.2 737.7 L487.5 739.1 L489.7 740.5 L492.0 742.0 L494.2 743.4 L496.5 744.8 L498.7 746.2 L499.6 746.8 M508.1 752.0 L510.4 753.4 L512.6 754.7 L514.9 756.1 L517.1 757.4 L519.3 758.8 L521.6 760.1 L523.8 761.4 L524.7 761.9 M533.7 767.1 L536.0 768.4 L538.2 769.7 L540.5 770.9 L542.7 772.2 L544.9 773.4 L547.2 774.7 L549.4 775.9 L550.3 776.4 M559.3 781.3 L561.6 782.5 L563.8 783.7 L566.0 784.9 L568.3 786.1 L570.5 787.2 L572.8 788.4 L575.0 789.6 L575.5 789.8 M584.5 794.4 L586.7 795.5 L588.9 796.7 L591.2 797.8 L593.4 798.9 L595.7 800.0 L597.9 801.1 L600.2 802.2 L601.1 802.6 M610.0 806.9 L612.3 808.0 L614.5 809.0 L616.8 810.1 L619.0 811.1 L621.3 812.2 L623.5 813.2 L625.8 814.2 L626.7 814.6 M635.2 818.5 L637.4 819.5 L639.7 820.4 L641.9 821.4 L644.2 822.4 L646.4 823.4 L648.7 824.4 L650.9 825.3 L651.8 825.7 M660.8 829.5 L663.0 830.4 L665.3 831.4 L667.5 832.3 L669.8 833.2 L672.0 834.1 L674.2 835.0 L676.5 835.9 L677.4 836.3 M685.9 839.7 L688.2 840.5 L690.4 841.4 L692.7 842.3 L694.9 843.1 L697.1 844.0 L699.4 844.9 L701.6 845.7 L702.5 846.0 M711.5 849.4 L713.8 850.2 L716.0 851.0 L718.2 851.8 L720.5 852.6 L722.7 853.4 L725.0 854.2 L727.2 855.0 L728.1 855.3 M737.1 858.5 L739.4 859.2 L741.6 860.0 L743.8 860.8 L746.1 861.5 L748.3 862.3 L750.6 863.0 L752.8 863.8 L753.3 863.9 M762.2 866.9 L764.5 867.6 L766.7 868.3 L769.0 869.0 L771.2 869.7 L773.5 870.4 L775.7 871.1 L778.0 871.8 L778.9 872.1 M787.8 874.9 L790.1 875.5 L792.3 876.2 L794.6 876.9 L796.8 877.5 L799.1 878.2 L801.3 878.9 L803.6 879.5 L804.5 879.8 M813.0 882.2 L815.2 882.8 L817.5 883.5 L819.7 884.1 L822.0 884.7 L824.2 885.4 L826.5 886.0 L828.7 886.6 L829.6 886.8 M838.6 889.2 L840.8 889.8 L843.1 890.4 L845.3 891.0 L847.6 891.6 L849.8 892.2 L852.0 892.7 L854.3 893.3 L855.2 893.5 M863.7 895.7 L866.0 896.2 L868.2 896.8 L870.5 897.3 L872.7 897.9 L874.9 898.4 L877.2 899.0 L879.4 899.5 L880.3 899.7 M889.3 901.8 L891.6 902.4 L893.8 902.9 L896.0 903.4 L898.3 903.9 L900.5 904.4 L902.8 904.9 L905.0 905.4 L905.9 905.6 M914.9 907.6 L917.1 908.1 L919.4 908.5 L921.6 909.0 L923.9 909.5 L926.1 910.0 L928.4 910.4 L930.6 910.9 L931.1 911.0 M940.0 912.9 L942.3 913.3 L944.5 913.8 L946.8 914.2 L949.0 914.7 L951.3 915.1 L953.5 915.5 L955.8 916.0 L956.7 916.2 M965.6 917.9 L967.9 918.3 L970.1 918.7 L972.4 919.1 L974.6 919.6 L976.9 920.0 L979.1 920.4 L981.4 920.8 L982.3 921.0 M990.8 922.5 L993.0 922.9 L995.3 923.3 L997.5 923.7 L999.8 924.1 L1002.0 924.4 L1004.3 924.8 L1006.5 925.2 L1007.4 925.4 M1016.4 926.9 L1018.6 927.2 L1020.9 927.6 L1023.1 928.0 L1025.4 928.3 L1027.6 928.7 L1029.8 929.1 L1032.1 929.4 L1033.0 929.5 M1041.5 930.9 L1043.8 931.2 L1046.0 931.6 L1048.3 931.9 L1050.5 932.2 L1052.7 932.6 L1055.0 932.9 L1057.2 933.3 L1058.1 933.4 M1067.1 934.7 L1069.4 935.0 L1071.6 935.3 L1073.8 935.7 L1076.1 936.0 L1078.3 936.3 L1080.6 936.6 L1082.8 936.9 L1083.7 937.0 M1092.7 938.2 L1094.9 938.5 L1097.2 938.8 L1099.4 939.1 L1101.7 939.4 L1103.9 939.7 L1106.2 940.0 L1108.4 940.3 L1108.9 940.4 M1117.8 941.5 L1120.1 941.8 L1122.3 942.1 L1124.6 942.3 L1126.8 942.6 L1129.1 942.9 L1131.3 943.2 L1133.6 943.4 L1134.5 943.5 M1143.4 944.6 L1145.7 944.8 L1147.9 945.1 L1150.2 945.4 L1152.4 945.6 L1154.7 945.9 L1156.9 946.1 L1159.2 946.4 L1160.0 946.5 M1168.6 947.4 L1170.8 947.6 L1173.1 947.9 L1175.3 948.1 L1177.6 948.4 L1179.8 948.6 L1182.0 948.8 L1184.3 949.1 L1185.2 949.2 M1194.2 950.1 L1196.4 950.3 L1198.7 950.5 L1200.9 950.7 L1203.2 951.0 L1205.4 951.2 L1207.6 951.4 L1209.9 951.6 L1210.8 951.7 M1219.3 952.5 L1221.6 952.7 L1223.8 952.9 L1226.0 953.1 L1228.3 953.3 L1230.5 953.6 L1232.8 953.8 L1235.0 954.0 L1235.9 954.0 M1244.9 954.8 L1247.2 955.0 L1249.4 955.2 L1251.6 955.4 L1253.9 955.6 L1256.1 955.8 L1258.4 956.0 L1260.6 956.2 L1261.5 956.2 M1270.5 957.0 L1272.7 957.2 L1275.0 957.3 L1277.2 957.5 L1279.5 957.7 L1281.7 957.9 L1284.0 958.0 L1286.2 958.2 L1286.7 958.2 M1295.6 958.9 L1297.9 959.1 L1300.1 959.3 L1302.4 959.4 L1304.6 959.6 L1306.9 959.8 L1309.1 959.9 L1311.4 960.1 L1312.3 960.1 M1321.2 960.8 L1323.5 960.9 L1325.7 961.1 L1328.0 961.2 L1330.2 961.4 L1332.5 961.5 L1334.7 961.7 L1336.9 961.8 L1337.8 961.9 M1346.4 962.5 L1348.6 962.6 L1350.9 962.7 L1353.1 962.9 L1355.4 963.0 L1357.6 963.2 L1359.8 963.3 L1362.1 963.5 L1363.0 963.5 M1372.0 964.1 L1374.2 964.2 L1376.5 964.3 L1378.7 964.5 L1380.9 964.6 L1383.2 964.7 L1385.4 964.8 L1387.7 965.0 L1388.6 965.0 M1397.1 965.5 L1399.4 965.6 L1401.6 965.8 L1403.8 965.9 L1406.1 966.0 L1408.3 966.1 L1410.6 966.2 L1412.8 966.4 L1413.7 966.4 M1422.7 966.9 L1424.9 967.0 L1427.2 967.1 L1429.4 967.2 L1431.7 967.3 L1433.9 967.5 L1436.2 967.6 L1438.4 967.7 L1439.3 967.7 M1448.3 968.2 L1450.5 968.3 L1452.8 968.4 L1455.0 968.5 L1457.3 968.6 L1459.5 968.7 L1461.8 968.8 L1464.0 968.9 L1464.5 968.9 M1473.4 969.4 L1475.7 969.5 L1477.9 969.6 L1480.2 969.7 L1482.4 969.8 L1484.7 969.9 L1486.9 970.0 L1489.2 970.1 L1490.1 970.2"/>
<polyline fill="none" stroke="#ff0000" stroke-width="3.0" points="144.00,223.77 147.37,230.10 150.75,236.38 154.12,242.61 157.50,248.80 160.87,254.93 164.25,261.02 167.62,267.06 171.00,273.05 174.37,279.00 177.75,284.90 181.12,290.75 184.50,296.55 187.87,302.31 191.25,308.03 194.62,313.70 197.99,319.33 201.37,324.91 204.74,330.44 208.12,335.94 211.49,341.39 214.87,346.80 218.24,352.16 221.62,357.48 224.99,362.76 228.37,368.00 231.74,373.20 235.12,378.36 238.49,383.47 241.87,388.55 245.24,393.58 248.62,398.58 251.99,403.53 255.36,408.45 258.74,413.33 262.11,418.17 265.49,422.97 268.86,427.73 272.24,432.45 275.61,437.14 278.99,441.79 282.36,446.40 285.74,450.98 289.11,455.52 292.49,460.02 295.86,464.49 299.24,468.92 302.61,473.32 305.98,477.68 309.36,482.01 312.73,486.30 316.11,490.56 319.48,494.79 322.86,498.98 326.23,503.13 329.61,507.26 332.98,511.35 336.36,515.41 339.73,519.43 343.11,523.43 346.48,527.39 349.86,531.32 353.23,535.22 356.61,539.09 359.98,542.92 363.35,546.73 366.73,550.50 370.10,554.25 373.48,557.96 376.85,561.65 380.23,565.30 383.60,568.93 386.98,572.53 390.35,576.09 393.73,579.63 397.10,583.14 400.48,586.63 403.85,590.08 407.23,593.51 410.60,596.90 413.97,600.28 417.35,603.62 420.72,606.94 424.10,610.23 427.47,613.49 430.85,616.73 434.22,619.94 437.60,623.12 440.97,626.28 444.35,629.41 447.72,632.52 451.10,635.61 454.47,638.66 457.85,641.70 461.22,644.70 464.60,647.69 467.97,650.65 471.34,653.58 474.72,656.49 478.09,659.38 481.47,662.25 484.84,665.09 488.22,667.90 491.59,670.70 494.97,673.47 498.34,676.22 501.72,678.95 505.09,681.65 508.47,684.33 511.84,686.99 515.22,689.63 518.59,692.25 521.96,694.85 525.34,697.42 528.71,699.97 532.09,702.51 535.46,705.02 538.84,707.51 542.21,709.98 545.59,712.43 548.96,714.86 552.34,717.27 555.71,719.66 559.09,722.03 562.46,724.38 565.84,726.71 569.21,729.02 572.59,731.32 575.96,733.59 579.33,735.84 582.71,738.08 586.08,740.30 589.46,742.50 592.83,744.68 596.21,746.84 599.58,748.99 602.96,751.12 606.33,753.23 609.71,755.32 613.08,757.39 616.46,759.45 619.83,761.49 623.21,763.52 626.58,765.52 629.95,767.51 633.33,769.49 636.70,771.44 640.08,773.38 643.45,775.31 646.83,777.22 650.20,779.11 653.58,780.99 656.95,782.85 660.33,784.69 663.70,786.52 667.08,788.34 670.45,790.14 673.83,791.92 677.20,793.69 680.58,795.44 683.95,797.18 687.32,798.91 690.70,800.62 694.07,802.31 697.45,804.00 700.82,805.66 704.20,807.32 707.57,808.96 710.95,810.58 714.32,812.19 717.70,813.79 721.07,815.38 724.45,816.95 727.82,818.50 731.20,820.05 734.57,821.58 737.94,823.10 741.32,824.60 744.69,826.10 748.07,827.58 751.44,829.05 754.82,830.50 758.19,831.94 761.57,833.37 764.94,834.79 768.32,836.20 771.69,837.59 775.07,838.97 778.44,840.34 781.82,841.70 785.19,843.05 788.57,844.38 791.94,845.71 795.31,847.02 798.69,848.32 802.06,849.61 805.44,850.89 808.81,852.16 812.19,853.42 815.56,854.66 818.94,855.90 822.31,857.12 825.69,858.34 829.06,859.54 832.44,860.73 835.81,861.92 839.19,863.09 842.56,864.25 845.93,865.40 849.31,866.55 852.68,867.68 856.06,868.80 859.43,869.91 862.81,871.02 866.18,872.11 869.56,873.19 872.93,874.27 876.31,875.33 879.68,876.39 883.06,877.44 886.43,878.47 889.81,879.50 893.18,880.52 896.56,881.53 899.93,882.53 903.30,883.53 906.68,884.51 910.05,885.49 913.43,886.45 916.80,887.41 920.18,888.36 923.55,889.30 926.93,890.24 930.30,891.16 933.68,892.08 937.05,892.99 940.43,893.89 943.80,894.78 947.18,895.67 950.55,896.54 953.92,897.41 957.30,898.27 960.67,899.13 964.05,899.97 967.42,900.81 970.80,901.64 974.17,902.47 977.55,903.28 980.92,904.09 984.30,904.89 987.67,905.69 991.05,906.48 994.42,907.26 997.80,908.03 1001.17,908.80 1004.55,909.56 1007.92,910.31 1011.29,911.06 1014.67,911.80 1018.04,912.53 1021.42,913.25 1024.79,913.97 1028.17,914.69 1031.54,915.39 1034.92,916.09 1038.29,916.79 1041.67,917.48 1045.04,918.16 1048.42,918.83 1051.79,919.50 1055.17,920.17 1058.54,920.82 1061.91,921.47 1065.29,922.12 1068.66,922.76 1072.04,923.39 1075.41,924.02 1078.79,924.64 1082.16,925.26 1085.54,925.87 1088.91,926.47 1092.29,927.07 1095.66,927.67 1099.04,928.25 1102.41,928.84 1105.79,929.42 1109.16,929.99 1112.54,930.55 1115.91,931.12 1119.28,931.67 1122.66,932.23 1126.03,932.77 1129.41,933.31 1132.78,933.85 1136.16,934.38 1139.53,934.91 1142.91,935.43 1146.28,935.95 1149.66,936.46 1153.03,936.97 1156.41,937.47 1159.78,937.97 1163.16,938.46 1166.53,938.95 1169.90,939.43 1173.28,939.91 1176.65,940.39 1180.03,940.86 1183.40,941.33 1186.78,941.79 1190.15,942.25 1193.53,942.70 1196.90,943.15 1200.28,943.59 1203.65,944.03 1207.03,944.47 1210.40,944.90 1213.78,945.33 1217.15,945.76 1220.53,946.18 1223.90,946.59 1227.27,947.01 1230.65,947.41 1234.02,947.82 1237.40,948.22 1240.77,948.62 1244.15,949.01 1247.52,949.40 1250.90,949.79 1254.27,950.17 1257.65,950.55 1261.02,950.93 1264.40,951.30 1267.77,951.67 1271.15,952.03 1274.52,952.39 1277.89,952.75 1281.27,953.11 1284.64,953.46 1288.02,953.81 1291.39,954.15 1294.77,954.49 1298.14,954.83 1301.52,955.17 1304.89,955.50 1308.27,955.83 1311.64,956.15 1315.02,956.48 1318.39,956.80 1321.77,957.11 1325.14,957.43 1328.52,957.74 1331.89,958.05 1335.26,958.35 1338.64,958.65 1342.01,958.95 1345.39,959.25 1348.76,959.55 1352.14,959.84 1355.51,960.13 1358.89,960.41 1362.26,960.70 1365.64,960.98 1369.01,961.26 1372.39,961.53 1375.76,961.81 1379.14,962.08 1382.51,962.35 1385.88,962.62 1389.26,962.88 1392.63,963.14 1396.01,963.40 1399.38,963.66 1402.76,963.92 1406.13,964.17 1409.51,964.42 1412.88,964.67 1416.26,964.92 1419.63,965.17 1423.01,965.41 1426.38,965.65 1429.76,965.89 1433.13,966.13 1436.51,966.37 1439.88,966.61 1443.25,966.84 1446.63,967.08 1450.00,967.31 1453.38,967.54 1456.75,967.78 1460.13,968.01 1463.50,968.24 1466.88,968.47 1470.25,968.70 1473.63,968.93 1477.00,969.17 1480.38,969.41 1483.75,969.65 1487.13,969.91 1490.50,970.20"/>
<path fill="none" stroke="#ff0000" stroke-width="3.0" d="M148.9 309.7 L151.2 313.4 L153.4 317.1 L155.7 320.8 L157.9 324.4 L158.4 325.2 M163.8 333.8 L166.0 337.4 L168.2 341.0 L170.5 344.5 L172.7 348.0 L173.2 348.7 M178.6 357.1 L180.8 360.5 L183.1 364.0 L185.3 367.4 L187.6 370.8 L188.4 372.2 M194.3 380.9 L196.5 384.3 L198.8 387.6 L201.0 390.9 L203.3 394.2 L204.2 395.5 M210.0 403.9 L212.2 407.1 L214.5 410.3 L216.7 413.5 L219.0 416.7 L220.8 419.2 M227.1 428.0 L229.3 431.0 L231.6 434.1 L233.8 437.2 L236.0 440.2 L237.8 442.7 M244.1 451.1 L246.4 454.0 L248.6 457.0 L250.9 459.9 L253.1 462.9 L255.3 465.8 L255.8 466.4 M262.1 474.4 L264.3 477.3 L266.6 480.1 L268.8 482.9 L271.1 485.7 L273.3 488.5 L274.2 489.6 M280.9 497.9 L283.2 500.7 L285.4 503.4 L287.7 506.1 L289.9 508.8 L292.2 511.4 L294.0 513.6 M300.7 521.5 L302.9 524.1 L305.2 526.7 L307.4 529.2 L309.7 531.8 L311.9 534.4 L314.2 536.9 M321.3 544.9 L323.6 547.4 L325.8 549.9 L328.1 552.4 L330.3 554.8 L332.6 557.2 L334.8 559.7 L335.7 560.6 M343.3 568.7 L345.6 571.1 L347.8 573.5 L350.1 575.8 L352.3 578.1 L354.6 580.4 L356.8 582.7 L358.2 584.1 M366.2 592.2 L368.5 594.5 L370.7 596.7 L373.0 598.9 L375.2 601.1 L377.5 603.3 L379.7 605.5 L382.0 607.7 M390.5 615.8 L392.7 617.9 L395.0 620.0 L397.2 622.1 L399.5 624.2 L401.7 626.2 L404.0 628.3 L406.2 630.3 L406.7 630.8 M415.6 638.8 L417.9 640.8 L420.1 642.8 L422.4 644.8 L424.6 646.7 L426.9 648.7 L429.1 650.6 L431.3 652.5 L432.2 653.3 M441.2 660.9 L443.5 662.8 L445.7 664.6 L448.0 666.5 L450.2 668.3 L452.5 670.2 L454.7 672.0 L456.9 673.8 L457.8 674.5 M466.4 681.3 L468.6 683.1 L470.9 684.8 L473.1 686.6 L475.3 688.3 L477.6 690.1 L479.8 691.8 L482.1 693.5 L483.0 694.2 M492.0 700.9 L494.2 702.5 L496.5 704.2 L498.7 705.8 L500.9 707.5 L503.2 709.1 L505.4 710.7 L507.7 712.3 L508.6 713.0 M517.1 719.0 L519.3 720.5 L521.6 722.1 L523.8 723.6 L526.1 725.2 L528.3 726.7 L530.6 728.2 L532.8 729.7 L533.7 730.3 M542.7 736.3 L544.9 737.8 L547.2 739.2 L549.4 740.7 L551.7 742.1 L553.9 743.6 L556.2 745.0 L558.4 746.4 L559.3 747.0 M568.3 752.6 L570.5 754.0 L572.8 755.3 L575.0 756.7 L577.3 758.1 L579.5 759.4 L581.8 760.8 L584.0 762.1 L584.5 762.4 M593.4 767.6 L595.7 768.9 L597.9 770.2 L600.2 771.5 L602.4 772.8 L604.7 774.0 L606.9 775.3 L609.1 776.6 L610.0 777.1 M619.0 782.0 L621.3 783.2 L623.5 784.4 L625.8 785.7 L628.0 786.9 L630.2 788.0 L632.5 789.2 L634.7 790.4 L635.6 790.9 M644.2 795.3 L646.4 796.4 L648.7 797.6 L650.9 798.7 L653.1 799.8 L655.4 801.0 L657.6 802.1 L659.9 803.2 L660.8 803.6 M669.8 808.0 L672.0 809.1 L674.2 810.2 L676.5 811.2 L678.7 812.3 L681.0 813.3 L683.2 814.4 L685.5 815.4 L686.4 815.8 M694.9 819.7 L697.1 820.7 L699.4 821.7 L701.6 822.7 L703.9 823.7 L706.1 824.7 L708.4 825.7 L710.6 826.7 L711.5 827.1 M720.5 830.9 L722.7 831.9 L725.0 832.8 L727.2 833.8 L729.5 834.7 L731.7 835.6 L734.0 836.5 L736.2 837.5 L737.1 837.8 M746.1 841.4 L748.3 842.3 L750.6 843.2 L752.8 844.1 L755.1 845.0 L757.3 845.8 L759.6 846.7 L761.8 847.6 L762.2 847.7 M771.2 851.1 L773.5 852.0 L775.7 852.8 L778.0 853.6 L780.2 854.4 L782.5 855.2 L784.7 856.1 L786.9 856.9 L787.8 857.2 M796.8 860.4 L799.1 861.1 L801.3 861.9 L803.6 862.7 L805.8 863.5 L808.0 864.2 L810.3 865.0 L812.5 865.7 L813.4 866.0 M822.0 868.9 L824.2 869.6 L826.5 870.3 L828.7 871.1 L830.9 871.8 L833.2 872.5 L835.4 873.2 L837.7 873.9 L838.6 874.2 M847.6 877.0 L849.8 877.7 L852.0 878.4 L854.3 879.0 L856.5 879.7 L858.8 880.4 L861.0 881.1 L863.3 881.7 L864.2 882.0 M872.7 884.5 L874.9 885.1 L877.2 885.8 L879.4 886.4 L881.7 887.0 L883.9 887.7 L886.2 888.3 L888.4 888.9 L889.3 889.2 M898.3 891.6 L900.5 892.2 L902.8 892.8 L905.0 893.4 L907.3 894.0 L909.5 894.6 L911.8 895.2 L914.0 895.7 L914.9 896.0 M923.9 898.3 L926.1 898.8 L928.4 899.4 L930.6 899.9 L932.9 900.5 L935.1 901.0 L937.4 901.6 L939.6 902.1 L940.0 902.2 M949.0 904.4 L951.3 904.9 L953.5 905.4 L955.8 906.0 L958.0 906.5 L960.3 907.0 L962.5 907.5 L964.7 908.0 L965.6 908.2 M974.6 910.2 L976.9 910.7 L979.1 911.2 L981.4 911.7 L983.6 912.2 L985.8 912.6 L988.1 913.1 L990.3 913.6 L991.2 913.8 M999.8 915.6 L1002.0 916.0 L1004.3 916.5 L1006.5 916.9 L1008.7 917.4 L1011.0 917.8 L1013.2 918.3 L1015.5 918.7 L1016.4 918.9 M1025.4 920.7 L1027.6 921.1 L1029.8 921.5 L1032.1 921.9 L1034.3 922.4 L1036.6 922.8 L1038.8 923.2 L1041.1 923.6 L1042.0 923.8 M1050.5 925.3 L1052.7 925.7 L1055.0 926.1 L1057.2 926.5 L1059.5 926.9 L1061.7 927.3 L1064.0 927.7 L1066.2 928.1 L1067.1 928.2 M1076.1 929.8 L1078.3 930.1 L1080.6 930.5 L1082.8 930.9 L1085.1 931.2 L1087.3 931.6 L1089.6 932.0 L1091.8 932.3 L1092.7 932.5 M1101.7 933.9 L1103.9 934.2 L1106.2 934.6 L1108.4 934.9 L1110.7 935.3 L1112.9 935.6 L1115.2 935.9 L1117.4 936.3 L1117.8 936.3 M1126.8 937.7 L1129.1 938.0 L1131.3 938.3 L1133.6 938.6 L1135.8 939.0 L1138.0 939.3 L1140.3 939.6 L1142.5 939.9 L1143.4 940.0 M1152.4 941.3 L1154.7 941.6 L1156.9 941.9 L1159.2 942.2 L1161.4 942.4 L1163.6 942.7 L1165.9 943.0 L1168.1 943.3 L1169.0 943.4 M1177.6 944.5 L1179.8 944.8 L1182.0 945.1 L1184.3 945.4 L1186.5 945.6 L1188.8 945.9 L1191.0 946.2 L1193.3 946.5 L1194.2 946.6 M1203.2 947.6 L1205.4 947.9 L1207.6 948.2 L1209.9 948.4 L1212.1 948.7 L1214.4 948.9 L1216.6 949.2 L1218.9 949.4 L1219.8 949.5 M1228.3 950.5 L1230.5 950.7 L1232.8 950.9 L1235.0 951.2 L1237.3 951.4 L1239.5 951.7 L1241.8 951.9 L1244.0 952.1 L1244.9 952.2 M1253.9 953.1 L1256.1 953.4 L1258.4 953.6 L1260.6 953.8 L1262.9 954.0 L1265.1 954.3 L1267.4 954.5 L1269.6 954.7 L1270.5 954.8 M1279.5 955.6 L1281.7 955.8 L1284.0 956.0 L1286.2 956.2 L1288.5 956.5 L1290.7 956.7 L1292.9 956.9 L1295.2 957.1 L1295.6 957.1 M1304.6 957.9 L1306.9 958.1 L1309.1 958.3 L1311.4 958.5 L1313.6 958.7 L1315.8 958.8 L1318.1 959.0 L1320.3 959.2 L1321.2 959.3 M1330.2 960.0 L1332.5 960.2 L1334.7 960.4 L1336.9 960.6 L1339.2 960.7 L1341.4 960.9 L1343.7 961.1 L1345.9 961.3 L1346.8 961.3 M1355.4 962.0 L1357.6 962.1 L1359.8 962.3 L1362.1 962.5 L1364.3 962.6 L1366.6 962.8 L1368.8 962.9 L1371.1 963.1 L1372.0 963.2 M1380.9 963.8 L1383.2 963.9 L1385.4 964.1 L1387.7 964.2 L1389.9 964.4 L1392.2 964.5 L1394.4 964.7 L1396.7 964.8 L1397.6 964.9 M1406.1 965.4 L1408.3 965.6 L1410.6 965.7 L1412.8 965.9 L1415.1 966.0 L1417.3 966.1 L1419.6 966.3 L1421.8 966.4 L1422.7 966.5 M1431.7 967.0 L1433.9 967.1 L1436.2 967.3 L1438.4 967.4 L1440.7 967.5 L1442.9 967.7 L1445.2 967.8 L1447.4 967.9 L1448.3 968.0 M1457.3 968.5 L1459.5 968.6 L1461.8 968.7 L1464.0 968.8 L1466.3 968.9 L1468.5 969.1 L1470.7 969.2 L1473.0 969.3 L1473.4 969.3 M1482.4 969.8 L1484.7 969.9 L1486.9 970.0 L1489.2 970.1 L1490.5 970.2"/>
</g>
<g stroke="#000" stroke-width="2" fill="none">
<rect x="144.5" y="20.0" width="1346.0" height="951.0"/>
<line x1="413.60" y1="971.00" x2="413.60" y2="957.00"/>
<line x1="413.60" y1="20.00" x2="413.60" y2="32.60"/>
<line x1="682.90" y1="971.00" x2="682.90" y2="957.00"/>
<line x1="682.90" y1="20.00" x2="682.90" y2="32.60"/>
<line x1="952.20" y1="971.00" x2="952.20" y2="957.00"/>
<line x1="952.20" y1="20.00" x2="952.20" y2="32.60"/>
<line x1="1221.50" y1="971.00" x2="1221.50" y2="957.00"/>
<line x1="1221.50" y1="20.00" x2="1221.50" y2="32.60"/>
<line x1="144.50" y1="834.49" x2="158.10" y2="834.49"/>
<line x1="1490.50" y1="834.49" x2="1475.50" y2="834.49"/>
<line x1="144.50" y1="698.77" x2="158.10" y2="698.77"/>
<line x1="1490.50" y1="698.77" x2="1475.50" y2="698.77"/>
<line x1="144.50" y1="563.06" x2="158.10" y2="563.06"/>
<line x1="1490.50" y1="563.06" x2="1475.50" y2="563.06"/>
<line x1="144.50" y1="427.34" x2="158.10" y2="427.34"/>
<line x1="1490.50" y1="427.34" x2="1475.50" y2="427.34"/>
<line x1="144.50" y1="291.62" x2="158.10" y2="291.62"/>
<line x1="1490.50" y1="291.62" x2="1475.50" y2="291.62"/>
<line x1="144.50" y1="155.91" x2="158.10" y2="155.91"/>
<line x1="1490.50" y1="155.91" x2="1475.50" y2="155.91"/>
</g>
<g class="tk">
<text x="109.27" y="984.30" font-size="45">0</text>
<text x="71.74 96.77 109.27" y="848.59" font-size="45">0.5</text>
<polygon points="120.66,712.87 128.26,712.87 128.26,681.46 122.77,681.46 111.66,689.83 111.66,696.13 120.66,690.91"/>
<polygon points="83.13,577.16 90.73,577.16 90.73,545.75 85.24,545.75 74.13,554.12 74.13,560.42 83.13,555.20"/>
<text x="96.77 109.27" y="577.16" font-size="45">.5</text>
<text x="109.27" y="441.44" font-size="45">2</text>
<text x="71.74 96.77 109.27" y="305.73" font-size="45">2.5</text>
<text x="109.27" y="170.01" font-size="45">3</text>
<text x="71.74 96.77 109.27" y="34.30" font-size="45">3.5</text>
<text x="131.79" y="1016.90" font-size="45">0</text>
<text x="382.32 407.35 419.85" y="1016.90" font-size="45">0.2</text>
<text x="651.62 676.65 689.15" y="1016.90" font-size="45">0.4</text>
<text x="920.92 945.95 958.45" y="1016.90" font-size="45">0.6</text>
<text x="1190.22 1215.25 1227.75" y="1016.90" font-size="45">0.8</text>
<polygon points="1489.67,1016.90 1497.28,1016.90 1497.28,985.49 1491.79,985.49 1480.67,993.86 1480.67,1000.16 1489.67,994.94"/>
</g>
<g fill="#000">
<path d="M796.4,1052.9 L796.7,1050 L798.6,1048.1 L800.6,1046.9 L805,1046.9" fill="none" stroke="#000" stroke-width="1.7"/>
<rect x="803.8" y="1046.3" width="5.1" height="24.5"/>
<path d="M808.3,1052.6 L811.2,1050.3 L813.8,1048.7 L817.2,1047.2 L823,1047.2" fill="none" stroke="#000" stroke-width="2"/>
<path d="M816.8,1046.3 H823.7 L827.3,1049.8 V1082.7 H822 V1050.8 L820.6,1048.6 H816.8 Z"/>
</g>
<text class="gr" transform="translate(46.75,553.3) rotate(-90) scale(1.12,1)" font-size="51.3">&#952;</text>
<text class="gr" transform="translate(44.0,508.1) rotate(-90) scale(0.89,1)" font-size="58.4" stroke="#000" stroke-width="0.9">(</text>
<text class="gr" transform="translate(46.3,489.9) rotate(-90) scale(0.955,1)" font-size="53">&#951;</text>
<text class="gr" transform="translate(44.0,459.7) rotate(-90) scale(0.89,1)" font-size="58.4" stroke="#000" stroke-width="0.9">)</text>
<g stroke="#000" stroke-width="5">
<line x1="971" y1="150.9" x2="986" y2="150.9"/>
<line x1="1000.3" y1="150.9" x2="1029.2" y2="150.9"/>
<line x1="1043.9" y1="150.9" x2="1069.4" y2="150.9"/>
<line x1="1083.8" y1="150.9" x2="1104" y2="150.9"/>
<line x1="983.8" y1="205.4" x2="1114.8" y2="205.4"/>
</g>
<g class="tk">
<text x="1141.60 1169.20 1192.28 1228.92 1252.01 1277.32 1300.40 1312.16 1344.27 1358.27" y="169.80" font-size="40.7">Yamada Ota</text>
<text x="1144.00 1171.75 1197.21" y="214.10" font-size="40.7">Xue</text>
<text x="453.00 487.02 498.45 522.34 533.77 556.52 567.95 590.71 602.13" y="272.60" font-size="40.7">M = 0.5, </text>
<polygon points="623.86,272.60 630.74,272.60 630.74,244.19 625.77,244.19 615.72,251.76 615.72,257.46 623.86,252.74"/>
<text x="636.32 647.74 670.50 681.93" y="272.60" font-size="40.7">.0, </text>
<polygon points="703.65,272.60 710.53,272.60 710.53,244.19 705.57,244.19 695.51,251.76 695.51,257.46 703.65,252.74"/>
<text x="716.11 727.54 750.29 761.72 773.15 795.90 807.33" y="272.60" font-size="40.7">.5, 2.0</text>
</g>
<line x1="459.2" y1="421.5" x2="303.6" y2="719.5" stroke="#000" stroke-width="4.8"/>
<polygon points="290.5,711.3 298,710.4 300.5,718.8 307,720.2 316,718.4 318.2,722.4 296,743 289.2,741.6 289.6,726" fill="#000"/>
</svg>
</body></html>
